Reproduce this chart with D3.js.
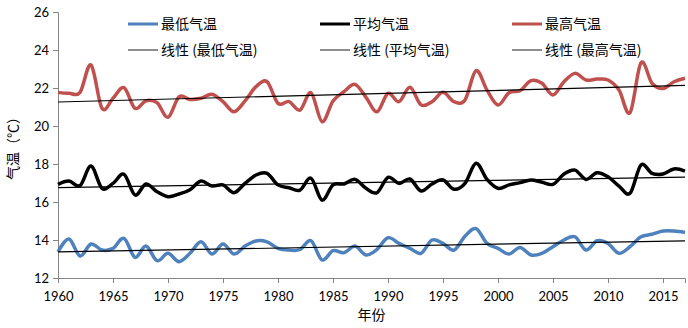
<!DOCTYPE html>
<html>
<head>
<meta charset="utf-8">
<script src="https://cdn.jsdelivr.net/npm/d3@7"></script>
<style>
  body { margin: 0; background: #fff; }
  text { font-family: Lato, "Noto Sans CJK SC", sans-serif; }
</style>
</head>
<body>
<div id="chart"></div>
<script>
const years = d3.range(1960, 2018)

const lowTemp = [13.38, 14.05, 13.16, 13.79, 13.47, 13.56, 14.09, 13.09, 13.68, 12.91,
    13.3, 12.86, 13.3, 13.91, 13.26, 13.79, 13.26, 13.68, 13.95, 13.9,
    13.56, 13.47, 13.5, 13.96, 12.95, 13.44, 13.33, 13.68, 13.21, 13.51,
    14.12, 13.82, 13.56, 13.3, 14.0, 13.82, 13.47, 14.2, 14.6, 13.82,
    13.56, 13.26, 13.61, 13.21, 13.3, 13.65, 14.0, 14.17, 13.47, 13.96,
    13.82, 13.3, 13.65, 14.17, 14.3, 14.47, 14.47, 14.4]

const meanTemp = [16.93, 17.1, 16.86, 17.89, 16.72, 16.98, 17.46, 16.37, 16.95, 16.54,
    16.28, 16.42, 16.65, 17.1, 16.84, 16.9, 16.49, 16.98, 17.42, 17.51,
    16.9, 16.75, 16.63, 17.25, 16.1, 16.9, 16.95, 17.19, 16.72, 16.49,
    17.3, 16.98, 17.21, 16.58, 16.95, 17.16, 16.67, 16.98, 18.04, 17.19,
    16.72, 16.9, 17.02, 17.16, 17.04, 16.93, 17.47, 17.68, 17.19, 17.54,
    17.33, 16.84, 16.46, 17.95, 17.51, 17.47, 17.74, 17.63]

const highTemp = [21.77, 21.72, 21.77, 23.21, 20.93, 21.46, 22.02, 20.93, 21.33, 21.23,
    20.46, 21.54, 21.4, 21.46, 21.67, 21.28, 20.75, 21.32, 22.07, 22.33,
    21.19, 21.28, 20.84, 21.75, 20.23, 21.32, 21.81, 22.19, 21.51, 20.75,
    21.72, 21.28, 22.04, 21.11, 21.28, 21.77, 21.28, 21.37, 22.91, 21.89,
    21.11, 21.75, 21.86, 22.39, 22.25, 21.63, 22.33, 22.77, 22.42, 22.47,
    22.42, 21.89, 20.7, 23.33, 22.25, 21.98, 22.33, 22.51]

const seriesNames = ["最低气温", "平均气温", "最高气温"]
const seriesColors = ["#4F81BD", "#000000", "#C0504D"]
const yTicks = [12, 14, 16, 18, 20, 22, 24, 26]
const xTicks = [1960, 1965, 1970, 1975, 1980, 1985, 1990, 1995, 2000, 2005, 2010, 2015]

const width = 688
const height = 328
const margin = ({ top: 12, right: 3, bottom: 50, left: 58 })

const series = [lowTemp, meanTemp, highTemp].map((values, i) => ({
    name: seriesNames[i],
    color: seriesColors[i],
    values: values.map((v, j) => ({ year: years[j], value: v }))
}))

// least squares fit, same as the excel "linear" trendline
const trend = values => {
    const mx = d3.mean(values, d => d.year)
    const my = d3.mean(values, d => d.value)
    const b = d3.sum(values, d => (d.year - mx) * (d.value - my)) / d3.sum(values, d => (d.year - mx) ** 2)
    const a = my - b * mx
    const ends = d3.extent(values, d => d.year)
    return ends.map(yr => ({ year: yr, value: a + b * yr }))
}

const x = d3.scaleLinear()
    .domain([1960, 2017])
    .range([margin.left, width - margin.right])

const y = d3.scaleLinear()
    .domain([12, 26])
    .range([height - margin.bottom, margin.top])

const svg = d3.select("#chart")
    .append("svg")
    .attr("width", width)
    .attr("height", height)

const axisColor = "#868686"

const yAxis = svg.append("g")
    .attr("transform", `translate(${margin.left},0)`)
    .call(d3.axisLeft(y).tickValues(yTicks).tickSize(5).tickPadding(4).tickFormat(d3.format("d")))
yAxis.select(".domain").attr("stroke", axisColor)
yAxis.selectAll(".tick line").attr("stroke", axisColor)
yAxis.selectAll(".tick text").attr("font-size", 13).attr("fill", "#000")

const xAxis = svg.append("g")
    .attr("transform", `translate(0,${height - margin.bottom})`)
    .call(d3.axisBottom(x).tickValues(xTicks).tickSize(5).tickPadding(9).tickFormat(d3.format("d")))
xAxis.select(".domain").attr("stroke", axisColor)
xAxis.selectAll(".tick line").attr("stroke", axisColor)
xAxis.selectAll(".tick text").attr("font-size", 13).attr("fill", "#000")

const line = d3.line()
    .x(d => x(d.year))
    .y(d => y(d.value))
    .curve(d3.curveCardinal.tension(0))

svg.append("g")
    .selectAll("path")
    .data(series)
    .join("path")
    .attr("fill", "none")
    .attr("stroke", d => d.color)
    .attr("stroke-width", 3.5)
    .attr("stroke-linejoin", "round")
    .attr("d", d => line(d.values))

const straight = d3.line()
    .x(d => x(d.year))
    .y(d => y(d.value))

svg.append("g")
    .selectAll("path")
    .data(series)
    .join("path")
    .attr("fill", "none")
    .attr("stroke", "#000")
    .attr("stroke-width", 1.2)
    .attr("d", d => straight(trend(d.values)))

// legend
const legendX = [128, 320, 512]
const legend = svg.append("g")
    .attr("font-family", "'Noto Sans CJK SC', sans-serif")
    .attr("font-size", 14)

series.forEach((s, i) => {
    legend.append("line")
        .attr("x1", legendX[i]).attr("x2", legendX[i] + 30)
        .attr("y1", 24).attr("y2", 24)
        .attr("stroke", s.color)
        .attr("stroke-width", 3)
    legend.append("text")
        .attr("x", legendX[i] + 33)
        .attr("y", 24)
        .attr("dy", "0.35em")
        .style("font-family", "'Noto Sans CJK SC', sans-serif")
        .text(s.name)
    legend.append("line")
        .attr("x1", legendX[i]).attr("x2", legendX[i] + 30)
        .attr("y1", 50).attr("y2", 50)
        .attr("stroke", "#404040")
        .attr("stroke-width", 1.2)
    legend.append("text")
        .attr("x", legendX[i] + 33)
        .attr("y", 50)
        .attr("dy", "0.35em")
        .style("font-family", "'Noto Sans CJK SC', sans-serif")
        .text(`线性 (${s.name})`)
})

svg.append("text")
    .attr("x", (margin.left + width - margin.right) / 2)
    .attr("y", 320)
    .attr("text-anchor", "middle")
    .attr("font-size", 14)
    .style("font-family", "'Noto Sans CJK SC', sans-serif")
    .text("年份")

svg.append("text")
    .attr("transform", `translate(13,${(margin.top + height - margin.bottom) / 2}) rotate(-90)`)
    .attr("text-anchor", "middle")
    .attr("dy", "0.35em")
    .attr("font-size", 14)
    .style("font-family", "'Noto Sans CJK SC', sans-serif")
    .text("气温（℃）")
</script>
</body>
</html>
